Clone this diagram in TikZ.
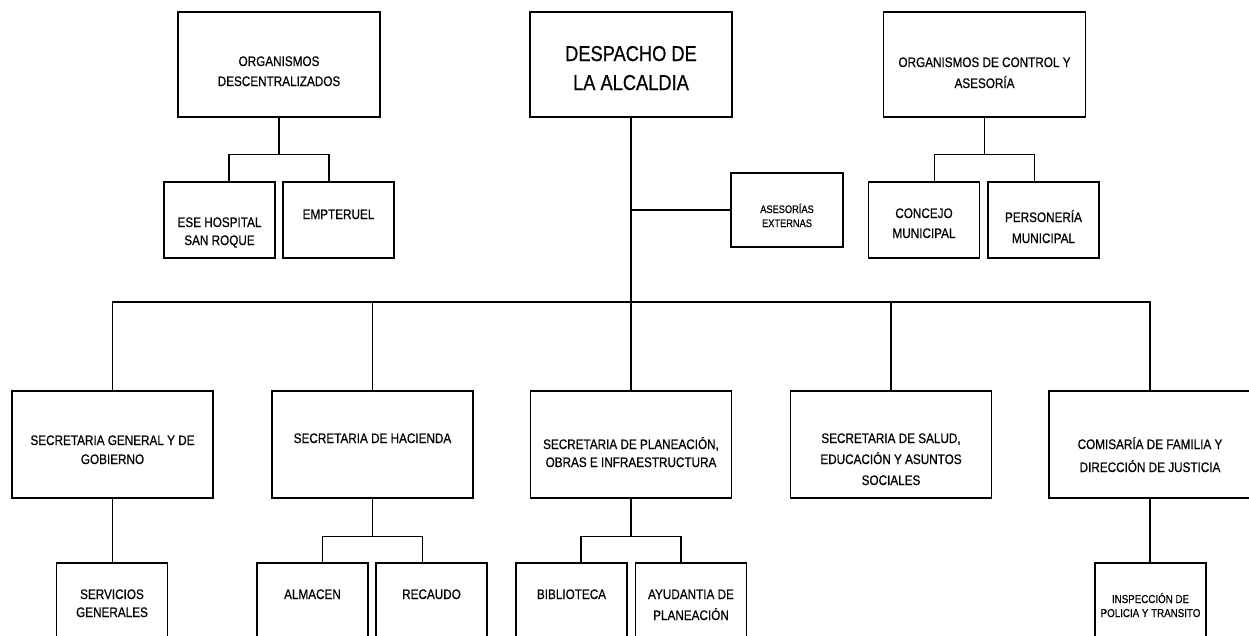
\documentclass[tikz,border=0pt]{standalone}
\usepackage{fontspec}
\setmainfont{Liberation Sans}[FakeStretch=0.85, FakeBold=0.6]
\usetikzlibrary{calc}
\def\forktwo(#1)(#2)(#3)(#4){%
	\draw (#1.south) -- ++(0,#4) coordinate (#1-j);
	\coordinate (#1-l) at ($(#1-j)+(-50,0)$);
	\coordinate (#1-r) at ($(#1-j)+(50,0)$);
	\draw (#1-l |- #2.north) -- (#1-l) -- (#1-r) -- (#1-r |- #3.north);}

\begin{document}
\begin{tikzpicture}[x=1pt, y=-1pt, line width=1.3pt,
	unit/.style={draw, line width=1.3pt, align=center, inner sep=0pt, font=\fontsize{13.8}{20}\selectfont},
	head/.style={unit, minimum width=202pt, minimum height=105pt},
	sec/.style={unit, minimum width=201pt, minimum height=107pt},
	sub/.style={unit, minimum width=111pt, minimum height=76pt},
	leaf/.style={unit, minimum width=111pt, minimum height=80pt}]
		%%%%% START %%%%%
		\useasboundingbox (0,0) rectangle (1249,635);
		\clip (0,0) rectangle (1249,635);
		
		\node[head, text height=74pt, text depth=31pt] (orgdes) at (279,64.5) {ORGANISMOS\\DESCENTRALIZADOS};
		\node[head, text height=78pt, text depth=27pt, font=\fontsize{21.5}{29}\selectfont] (despacho) at (631,64.5) {DESPACHO DE\\LA ALCALDIA};
		\node[head, text height=76pt, text depth=29pt, font=\fontsize{13.8}{21}\selectfont] (orgctl) at (984.5,64.5) {ORGANISMOS DE CONTROL Y\\ASESORÍA};
		
		\node[sub, text height=63pt, text depth=13pt, font=\fontsize{13.8}{18}\selectfont] (ese) at (219.5,220) {ESE HOSPITAL\\SAN ROQUE};
		\node[sub, text height=37pt, text depth=39pt] (empteruel) at (338.5,220) {EMPTERUEL};
		\node[sub, minimum width=112pt, minimum height=74pt, text height=54pt, text depth=20pt, font=\fontsize{10.9}{14}\selectfont] (asesorias) at (787,210) {ASESORÍAS\\EXTERNAS};
		\node[sub, text height=56pt, text depth=20pt] (concejo) at (924,220) {CONCEJO\\MUNICIPAL};
		\node[sub, text height=61pt, text depth=15pt, font=\fontsize{13.8}{21}\selectfont] (personeria) at (1043.5,220) {PERSONERÍA\\MUNICIPAL};
		
		\node[sec, text height=73pt, text depth=34pt, font=\fontsize{13.8}{19}\selectfont] (general) at (112.5,444.5) {SECRETARIA GENERAL Y DE\\GOBIERNO};
		\node[sec, text height=52pt, text depth=55pt] (hacienda) at (372.5,444.5) {SECRETARIA DE HACIENDA};
		\node[sec, text height=76pt, text depth=31pt, font=\fontsize{13.8}{18}\selectfont] (planeacion) at (631,444.5) {SECRETARIA DE PLANEACIÓN,\\OBRAS E INFRAESTRUCTURA};
		\node[sec, text height=94pt, text depth=13pt, font=\fontsize{13.8}{21}\selectfont] (salud) at (891,444.5) {SECRETARIA DE SALUD,\\EDUCACIÓN Y ASUNTOS\\SOCIALES};
		\node[sec, minimum width=202pt, text height=81pt, text depth=26pt, font=\fontsize{13.8}{23}\selectfont] (comisaria) at (1150,444.5) {COMISARÍA DE FAMILIA Y\\DIRECCIÓN DE JUSTICIA};
		
		\node[leaf, text height=54pt, text depth=26pt, font=\fontsize{13.8}{18}\selectfont] (servicios) at (112,603) {SERVICIOS\\GENERALES};
		\node[leaf, text height=36pt, text depth=44pt] (almacen) at (312.5,603) {ALMACEN};
		\node[leaf, text height=36pt, text depth=44pt] (recaudo) at (431.5,603) {RECAUDO};
		\node[leaf, text height=36pt, text depth=44pt] (biblioteca) at (571.5,603) {BIBLIOTECA};
		\node[leaf, text height=57pt, text depth=23pt, font=\fontsize{13.8}{21}\selectfont] (ayudantia) at (691,603) {AYUDANTIA DE\\PLANEACIÓN};
		\node[leaf, text height=54pt, text depth=26pt, font=\fontsize{11.5}{14}\selectfont] (inspeccion) at (1150.5,603) {INSPECCIÓN DE\\POLICIA Y TRANSITO};
		
		% top branches
		\forktwo(orgdes)(ese)(empteruel)(37)
		\forktwo(orgctl)(concejo)(personeria)(37)
		
		% main trunk
		\coordinate (bus) at (631,302);
		\draw (despacho) -- (bus);
		\draw (despacho.south |- asesorias.west) -- (asesorias.west);
		\draw (general.north) |- (bus) -| (comisaria.north);
		\draw (bus) -| (hacienda.north);
		\draw (bus) -- (planeacion.north);
		\draw (bus) -| (salud.north);
		
		% lower branches
		\draw (general.south) -- (general.south |- servicios.north);
		\forktwo(hacienda)(almacen)(recaudo)(38)
		\forktwo(planeacion)(biblioteca)(ayudantia)(38)
		\draw (comisaria.south) -- (comisaria.south |- inspeccion.north);
		%%%%% END %%%%%
	\end{tikzpicture}
\end{document}
